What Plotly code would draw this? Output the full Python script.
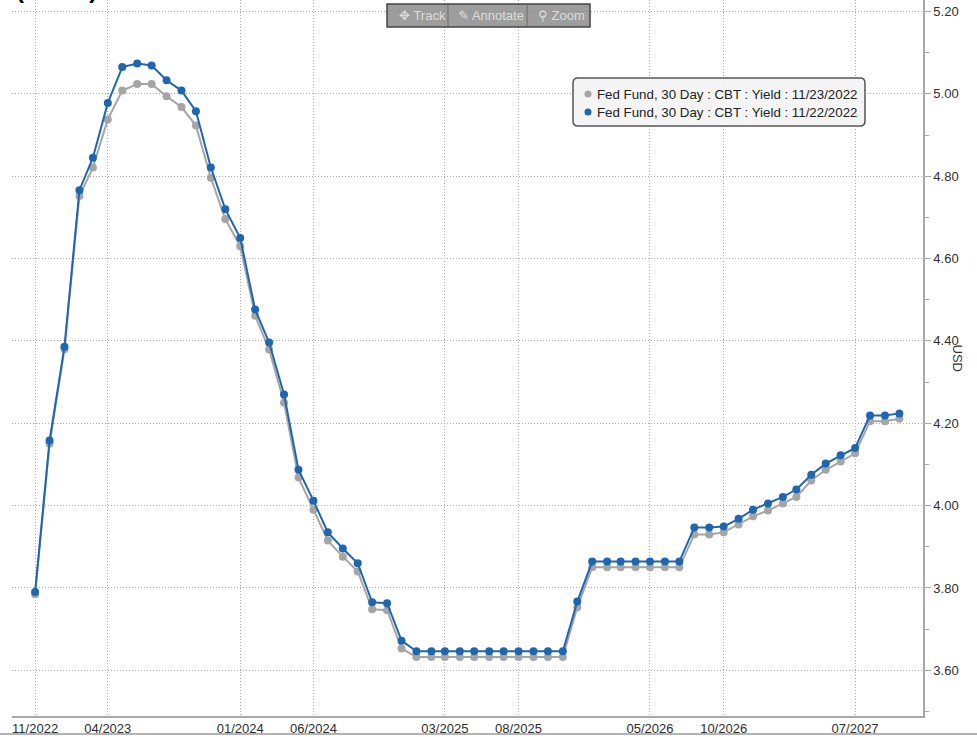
import plotly.graph_objects as go
import pandas as pd

# ---------------- data ----------------
months = pd.date_range("2022-11-01", periods=60, freq="MS")

yield_11_22 = [
    3.790, 4.158, 4.386, 4.766, 4.845, 4.978, 5.065, 5.074, 5.069, 5.033,
    5.008, 4.958, 4.821, 4.720, 4.650, 4.476, 4.396, 4.270, 4.087, 4.012,
    3.935, 3.896, 3.860, 3.765, 3.763, 3.672,
    3.646, 3.646, 3.646, 3.646, 3.646, 3.646, 3.646, 3.646, 3.646, 3.646, 3.646,
    3.767,
    3.864, 3.864, 3.864, 3.864, 3.864, 3.864, 3.864,
    3.947, 3.947, 3.949, 3.968, 3.990, 4.005, 4.021, 4.039, 4.075, 4.102,
    4.122, 4.140, 4.219, 4.219, 4.224,
]

yield_11_23 = [
    3.785, 4.150, 4.380, 4.752, 4.821, 4.938, 5.008, 5.024, 5.024, 4.994,
    4.968, 4.923, 4.796, 4.696, 4.630, 4.461, 4.379, 4.250, 4.068, 3.990,
    3.915, 3.876, 3.840, 3.748, 3.746, 3.653,
    3.632, 3.632, 3.632, 3.632, 3.632, 3.632, 3.632, 3.632, 3.632, 3.632, 3.632,
    3.753,
    3.850, 3.850, 3.850, 3.850, 3.850, 3.850, 3.850,
    3.930, 3.930, 3.935, 3.954, 3.974, 3.988, 4.005, 4.021, 4.061, 4.087,
    4.107, 4.127, 4.205, 4.205, 4.211,
]

tick_dates = ["2022-11-01", "2023-04-01", "2024-01-01", "2024-06-01", "2025-03-01",
              "2025-08-01", "2026-05-01", "2026-10-01", "2027-07-01"]
tick_labels = ["11/2022", "04/2023", "01/2024", "06/2024", "03/2025",
               "08/2025", "05/2026", "10/2026", "07/2027"]

series_names = ["Fed Fund, 30 Day : CBT : Yield : 11/23/2022",
                "Fed Fund, 30 Day : CBT : Yield : 11/22/2022"]

GRAY = "#a5a5a5"
BLUE = "#1f66b0"
FONT = "Liberation Sans"
GRID_DASH = "1px,2px"

# ---------------- geometry helpers (pixel -> paper) ----------------
W, H = 977, 737
L, R, T, B = 12, 923, 0, 716


def px_x(x):
    return (x - L) / (R - L)


def px_y(y):
    return 1 - (y - T) / (B - T)


fig = go.Figure()
fig.add_trace(go.Scatter(x=months, y=yield_11_23, mode="lines+markers", name=series_names[0],
                         line=dict(color=GRAY, width=2), marker=dict(color=GRAY, size=8),
                         showlegend=False))
fig.add_trace(go.Scatter(x=months, y=yield_11_22, mode="lines+markers", name=series_names[1],
                         line=dict(color=BLUE, width=2), marker=dict(color=BLUE, size=8),
                         showlegend=False))

fig.update_layout(
    width=W, height=H,
    margin=dict(l=L, r=W - R, t=T, b=H - B, pad=0),
    paper_bgcolor="white", plot_bgcolor="white",
    font=dict(family=FONT, size=13, color="#333333"),
    showlegend=False,
    xaxis=dict(
        range=["2022-09-14", "2027-11-19"],
        tickmode="array", tickvals=tick_dates, ticktext=tick_labels,
        showgrid=True, gridcolor="#a8a8a8", griddash=GRID_DASH, gridwidth=1,
        showline=True, linecolor="#a8a8a8", linewidth=1.5,
        ticks="", zeroline=False,
        tickfont=dict(size=13, color="#2e2e2e"),
    ),
    yaxis=dict(
        side="right", range=[3.489, 5.228],
        tick0=3.6, dtick=0.2, tickformat=".2f",
        showgrid=True, gridcolor="#a8a8a8", griddash=GRID_DASH, gridwidth=1,
        showline=True, linecolor="#a8a8a8", linewidth=1.5,
        ticks="outside", ticklen=6, tickcolor="#a8a8a8",
        minor=dict(dtick=0.1, tick0=3.5, ticks="outside", ticklen=4, tickcolor="#a8a8a8", showgrid=False),
        zeroline=False,
        tickfont=dict(size=13, color="#2e2e2e"),
    ),
)

shapes = []
annotations = []

# axis title "USD" (reads top to bottom)
annotations.append(dict(x=px_x(967), y=px_y(358), xref="paper", yref="paper",
                        text="USD", textangle=90, showarrow=False,
                        font=dict(size=13, color="#333333")))

# bottom frame line
shapes.append(dict(type="line", xref="paper", yref="paper",
                   x0=px_x(0), x1=px_x(W), y0=px_y(734), y1=px_y(734),
                   line=dict(color="#9a9a9a", width=1.5)))

# cropped title (only its bottom edge is visible)
annotations.append(dict(x=px_x(14), y=px_y(5), xref="paper", yref="paper",
                        xanchor="left", yanchor="bottom", text="<b>(Rates)</b>",
                        showarrow=False, font=dict(size=24, color="black")))

# legend box (rounded)
lx0, lx1, ly0, ly1, rr = 573, 865, 78, 126, 5
path = (f"M {lx0+rr},{ly0} L {lx1-rr},{ly0} Q {lx1},{ly0} {lx1},{ly0+rr} "
        f"L {lx1},{ly1-rr} Q {lx1},{ly1} {lx1-rr},{ly1} L {lx0+rr},{ly1} "
        f"Q {lx0},{ly1} {lx0},{ly1-rr} L {lx0},{ly0+rr} Q {lx0},{ly0} {lx0+rr},{ly0} Z")


def conv_path(p):
    out = []
    for t in p.split():
        if "," in t:
            a, b = t.split(",")
            out.append(f"{px_x(float(a)):.5f},{px_y(float(b)):.5f}")
        else:
            out.append(t)
    return " ".join(out)


shapes.append(dict(type="path", xref="paper", yref="paper", path=conv_path(path),
                   fillcolor="rgba(244,244,244,0.95)", line=dict(color="#555555", width=1.5)))
for i, (col, yy) in enumerate([(GRAY, 94), (BLUE, 112)]):
    shapes.append(dict(type="circle", xref="paper", yref="paper",
                       xsizemode="pixel", ysizemode="pixel",
                       xanchor=px_x(588), yanchor=px_y(yy),
                       x0=-3.5, x1=3.5, y0=-3.5, y1=3.5,
                       fillcolor=col, line=dict(color=col, width=0)))
    annotations.append(dict(x=px_x(595), y=px_y(yy), xref="paper", yref="paper",
                            xanchor="left", yanchor="middle", text=series_names[i],
                            showarrow=False, font=dict(size=13.3, color="#222222")))

# toolbar
shapes.append(dict(type="rect", xref="paper", yref="paper",
                   x0=px_x(387), x1=px_x(590), y0=px_y(4), y1=px_y(27),
                   fillcolor="rgba(140,140,140,0.85)", line=dict(color="#444444", width=1.5)))
for sx in (448, 527):
    shapes.append(dict(type="line", xref="paper", yref="paper",
                       x0=px_x(sx), x1=px_x(sx), y0=px_y(5), y1=px_y(26),
                       line=dict(color="#6a6a6a", width=1)))
for cx, label in [(422, "✥ Track"), (491, "✎ Annotate"), (561, "⚲ Zoom")]:
    annotations.append(dict(x=px_x(cx), y=px_y(15.5), xref="paper", yref="paper",
                            yanchor="middle", text=label, showarrow=False,
                            font=dict(size=13, color="#dcdcdc")))

fig.update_layout(shapes=shapes, annotations=annotations)

fig.write_html("out.html", config={"displayModeBar": False},
               post_script="document.body.style.margin='0';")
